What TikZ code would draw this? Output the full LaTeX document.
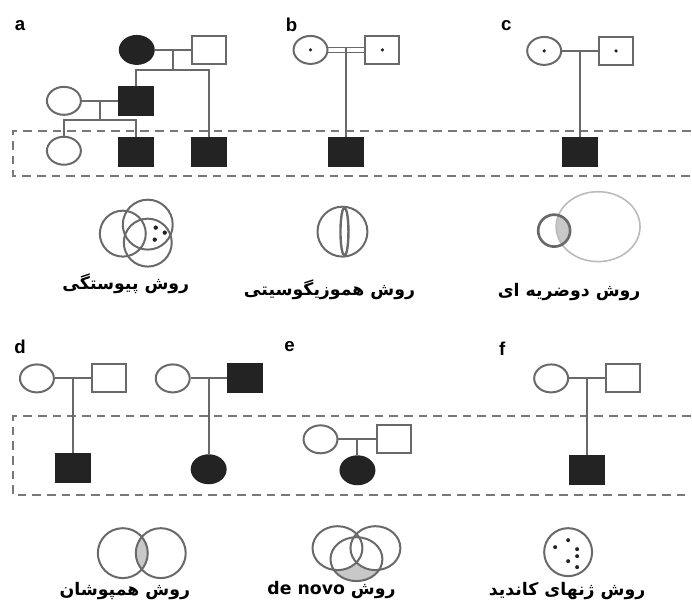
\documentclass[tikz,border=0pt]{standalone}
\usepackage{tikz}
\usepackage{fontspec}
\usetikzlibrary{shapes.geometric,calc}
\TeXXeTstate=1
\newfontfamily\farsi[Script=Arabic]{DejaVu Sans}
\newfontfamily\latn{Liberation Sans}
\definecolor{lnc}{RGB}{105,105,105}
\definecolor{affc}{RGB}{35,35,35}
\definecolor{shdc}{RGB}{200,200,200}
\definecolor{dshc}{RGB}{120,120,120}

\begin{document}
\begin{tikzpicture}[x=0.75pt,y=0.75pt,yscale=-1,xscale=1,
  line width=1.5pt,
  fem/.style={draw=lnc,ellipse,inner sep=0pt,minimum width=25.5pt,minimum height=21pt},
  mal/.style={draw=lnc,rectangle,inner sep=0pt,minimum width=25.5pt,minimum height=21pt},
  aff/.style={fill=affc,draw=affc},
  link/.style={draw=lnc},
  box/.style={draw=dshc,line width=1.6pt,dash pattern=on 6.5pt off 4.5pt},
  venn/.style={draw=lnc,line width=1.5pt},
  tag/.style={font=\latn\bfseries\fontsize{14}{14}\selectfont},
  fa/.style={font=\farsi\bfseries\fontsize{13}{15}\selectfont}]
\path (0,0) rectangle (692,606);

%Dashed frames
\draw [box] (692,131) -- (13,131) -- (13,176) -- (692,176);
\draw [box] (692,417) -- (13,417) -- (13,496) -- (692,496);

% Text Node
\node [tag] (ta) at (20,26) {a};
\node [tag] (tb) at (292,25) {b};
\node [tag] (tc) at (507,26) {c};
\node [tag] (td) at (20,347) {d};
\node [tag] (te) at (290,347) {e};
\node [tag] (tf) at (503,349) {f};

%Panel a
\node [fem,aff] (aGm) at (137,50) {};
\node [mal] (aGf) at (209,50) {};
\node [mal,aff] (aF1) at (136,101) {};
\node [fem] (aW) at (64,101) {};
\node [fem] (aD1) at (64,151) {};
\node [mal,aff] (aS2) at (136,152) {};
\node [mal,aff] (aS3) at (209,152) {};
\coordinate (aX) at ($(aGm.east)!.5!(aGf.west)$);
\coordinate (aY) at ($(aW.east)!.5!(aF1.west)$);
\draw [link] (aGm) -- (aGf);
\draw [link] (aX) -- ++(0,20) coordinate (aJ);
\draw [link] (aF1.north) |- (aJ) -| (aS3.north);
\draw [link] (aW) -- (aF1);
\draw [link] (aY) -- ++(0,19) coordinate (aK);
\draw [link] (aD1.north) |- (aK) -| (aS2.north);

%Panel b
\node [fem] (bM) at (311,50) {};
\node [mal] (bF) at (383,50) {};
\node [mal,aff] (bS) at (347,152) {};
\fill [affc] (bM.center) circle (1.8);
\fill [affc] (bF.center) circle (1.8);
\draw [link,line width=1.1pt] ([yshift=2pt]bM.east) -- ([yshift=2pt]bF.west);
\draw [link,line width=1.1pt] ([yshift=-2pt]bM.east) -- ([yshift=-2pt]bF.west);
\coordinate (bX) at ($(bM.east)!.5!(bF.west)$);
\draw [link] ([yshift=-2pt]bX) -- (bS.north);

%Panel c
\node [fem] (cM) at (545,51) {};
\node [mal] (cF) at (617,51) {};
\node [mal,aff] (cS) at (581,152) {};
\fill [affc] (cM.center) circle (1.8);
\fill [affc] (cF.center) circle (1.8);
\draw [link] (cM) -- (cF);
\coordinate (cX) at ($(cM.east)!.5!(cF.west)$);
\draw [link] (cX) -- (cS.north);

%Panel d
\node [fem] (dM1) at (37,379) {};
\node [mal] (dF1) at (109,379) {};
\node [mal,aff] (dS) at (73,469) {};
\draw [link] (dM1) -- (dF1);
\coordinate (dX) at ($(dM1.east)!.5!(dF1.west)$);
\draw [link] (dX) -- (dS.north);
\node [fem] (dM2) at (173,379) {};
\node [mal,aff] (dF2) at (245,379) {};
\node [fem,aff] (dD) at (209,470) {};
\draw [link] (dM2) -- (dF2);
\coordinate (dY) at ($(dM2.east)!.5!(dF2.west)$);
\draw [link] (dY) -- (dD.north);

%Panel e
\node [fem] (eM) at (321,440) {};
\node [mal] (eF) at (395,440) {};
\node [fem,aff] (eD) at (358,471) {};
\draw [link] (eM) -- (eF);
\coordinate (eX) at ($(eM.east)!.5!(eF.west)$);
\draw [link] (eX) -- (eD.north);

%Panel f
\node [fem] (fM) at (552,379) {};
\node [mal] (fF) at (624,379) {};
\node [mal,aff] (fS) at (588,471) {};
\draw [link] (fM) -- (fF);
\coordinate (fX) at ($(fM.east)!.5!(fF.west)$);
\draw [link] (fX) -- (fS.north);

%Venn a
\draw [venn] (123,234) circle (23);
\draw [venn] (148,225) circle (25);
\draw [venn] (148,243) circle (24);
\fill [affc] (156,228) circle (2.2);
\fill [affc] (165,233) circle (2.2);
\fill [affc] (155,240) circle (2.2);

%Venn b
\draw [venn] (343,232) circle (25);
\draw [venn,line width=1.8pt] (345,232) ellipse (4 and 24);

%Venn c
\begin{scope}
\clip (555,231) circle (16);
\fill [shdc] (599,227) ellipse (42 and 35);
\end{scope}
\draw [draw=lnc!45,line width=1.2pt] (599,227) ellipse (42 and 35);
\draw [venn,line width=2pt] (555,231) circle (16);

%Venn d
\begin{scope}
\clip (123,554) circle (25);
\fill [shdc] (161,554) circle (25);
\end{scope}
\draw [venn] (123,554) circle (25);
\draw [venn] (161,554) circle (25);

%Venn e
\fill [shdc] (357,560) ellipse (26 and 22);
\fill [white] (338,549) ellipse (25 and 22);
\fill [white] (376,549) ellipse (25 and 22);
\draw [venn] (338,549) ellipse (25 and 22);
\draw [venn] (376,549) ellipse (25 and 22);
\draw [venn] (357,560) ellipse (26 and 22);

%Venn f
\draw [venn] (569,553) circle (24);
\fill [affc] (556,548) circle (2);
\fill [affc] (569,541) circle (2);
\fill [affc] (578,550) circle (2);
\fill [affc] (578,557) circle (2);
\fill [affc] (569,562) circle (2);
\fill [affc] (578,568) circle (2);

% Text Node
\node [fa] (la) at (126,284) {\beginR روش پیوستگی\endR};
\node [fa] (lb) at (330,290) {\beginR روش هموزیگوسیتی\endR};
\node [fa] (lc) at (570,292) {\beginR روش دوضریه ای\endR};
\node [fa] (ld) at (125,592) {\beginR روش همپوشان\endR};
\node [fa] (le) at (332,591) {\beginR روش \beginL de novo\endL\endR};
\node [fa] (lf) at (568,592) {\beginR روش ژنهای کاندید\endR};
\end{tikzpicture}
\end{document}
